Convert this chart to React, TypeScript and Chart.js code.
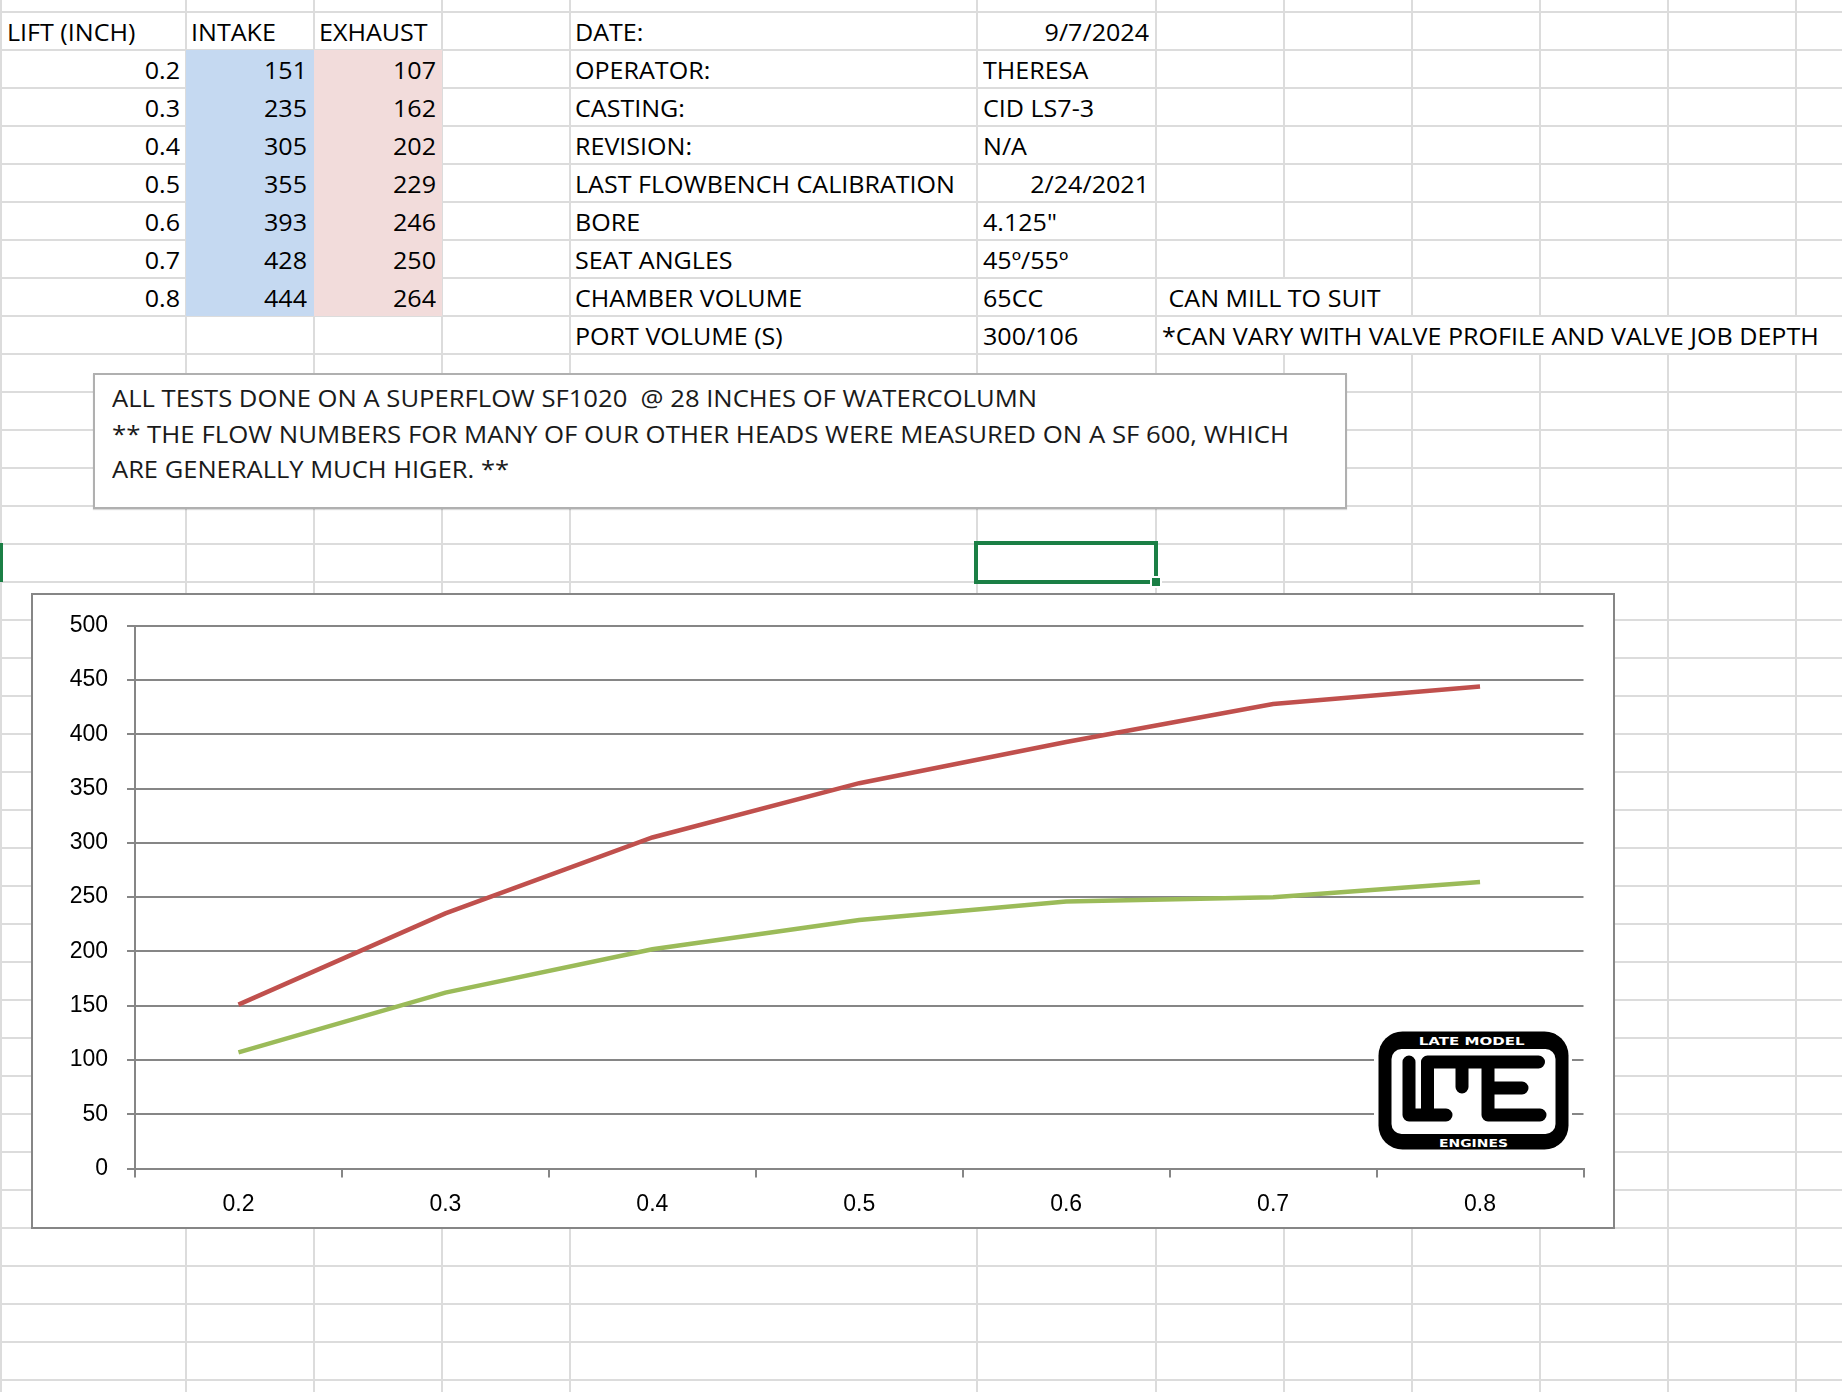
import React, { useEffect, useLayoutEffect, useRef, useState } from 'react';
import { Chart, registerables } from 'chart.js';

Chart.register(...registerables);

// ---------------- data ----------------
const lifts = ['0.2', '0.3', '0.4', '0.5', '0.6', '0.7', '0.8'];
const intake = [151, 235, 305, 355, 393, 428, 444];
const exhaust = [107, 162, 202, 229, 246, 250, 264];
const tableHeaders = ['LIFT (INCH)', 'INTAKE', 'EXHAUST'];
const infoLabels = [
  'DATE:', 'OPERATOR:', 'CASTING:', 'REVISION:', 'LAST FLOWBENCH CALIBRATION',
  'BORE', 'SEAT ANGLES', 'CHAMBER VOLUME', 'PORT VOLUME (S)',
];
const infoValues = ['9/7/2024', 'THERESA', 'CID LS7-3', 'N/A', '2/24/2021', '4.125"', '45º/55º', '65CC', '300/106'];
const infoRightAligned = [true, false, false, false, true, false, false, false, false];
const sideNotes = ['', '', '', '', '', '', '', ' CAN MILL TO SUIT', '*CAN VARY WITH VALVE PROFILE AND VALVE JOB DEPTH'];
const noteLines = [
  'ALL TESTS DONE ON A SUPERFLOW SF1020  @ 28 INCHES OF WATERCOLUMN',
  '** THE FLOW NUMBERS FOR MANY OF OUR OTHER HEADS WERE MEASURED ON A SF 600, WHICH',
  'ARE GENERALLY MUCH HIGER. **',
];
const yMin = 0;
const yMax = 500;
const yStep = 50;

// ---------------- layout ----------------
const ROW0 = 11.7;
const RH = 38;
const COLS = [1, 185.5, 313.5, 441.5, 569.5, 977, 1155.5, 1283.5, 1411.5, 1540, 1668, 1796];
const rowTop = (r: number) => ROW0 + r * RH;
const CELL_FONT = "'Open Sans', Lato, sans-serif";
const CELL_SIZE = 23.5;
const ASC = 1.069;
const DESC = 0.293;
const CELL_BASELINE = 29.5; // from row top
const REF_TEXT = 'LAST FLOWBENCH CALIBRATION';
const REF_WIDTH = 380;
const GRID = '#dcdcdc';
const CHART_FONT = "'Liberation Sans', Arial, sans-serif";
const AXIS = '#868686';
const GREEN = '#1b7f45';

function CellText({ x, row, text, align, sx }: { x: number; row: number; text: string; align?: string; sx: number }) {
  const top = rowTop(row) + CELL_BASELINE - ASC * CELL_SIZE;
  const base: React.CSSProperties = {
    position: 'absolute', top, lineHeight: (ASC + DESC) + '', fontFamily: CELL_FONT, fontSize: CELL_SIZE,
    whiteSpace: 'pre', color: '#000', transform: `scaleX(${sx})`,
  };
  if (align === 'right') {
    return <div style={{ ...base, left: x - 500, width: 500, textAlign: 'right', transformOrigin: '100% 0' }}>{text}</div>;
  }
  return <div style={{ ...base, left: x, transformOrigin: '0 0' }}>{text}</div>;
}

function FitText({ text, left, baseline, width, size }: { text: string; left: number; baseline: number; width: number; size: number }) {
  const ref = useRef<HTMLSpanElement>(null);
  useLayoutEffect(() => {
    const el = ref.current;
    if (!el) return;
    el.style.transform = 'none';
    const w = el.getBoundingClientRect().width;
    if (w > 0) el.style.transform = `scaleX(${width / w})`;
  }, [text, width]);
  return (
    <span
      ref={ref}
      style={{
        position: 'absolute', left, top: baseline - ASC * size, fontFamily: CELL_FONT, fontSize: size,
        lineHeight: (ASC + DESC) + '', whiteSpace: 'pre', transformOrigin: '0 0', display: 'inline-block', color: '#1a1a1a',
      }}
    >
      {text}
    </span>
  );
}

function FlowChart() {
  const ref = useRef<HTMLCanvasElement>(null);
  useEffect(() => {
    const canvas = ref.current;
    if (!canvas) return;
    const chart = new Chart(canvas, {
      type: 'line',
      data: {
        labels: lifts,
        datasets: [
          { label: 'INTAKE', data: intake, borderColor: '#c0504d', backgroundColor: '#c0504d', borderWidth: 4.5, pointRadius: 0, tension: 0, fill: false },
          { label: 'EXHAUST', data: exhaust, borderColor: '#9bbb59', backgroundColor: '#9bbb59', borderWidth: 4.5, pointRadius: 0, tension: 0, fill: false },
        ],
      },
      options: {
        animation: false,
        responsive: false,
        maintainAspectRatio: false,
        devicePixelRatio: 1,
        events: [],
        layout: { padding: { top: 31.5, right: 31.5, bottom: 0, left: 0 } },
        plugins: { legend: { display: false }, tooltip: { enabled: false }, title: { display: false } },
        scales: {
          x: {
            type: 'category',
            offset: true,
            grid: { offset: true, drawOnChartArea: false, drawTicks: true, tickLength: 9, color: AXIS, lineWidth: 2 },
            border: { display: true, color: AXIS, width: 2 },
            ticks: { font: { family: CHART_FONT, size: 23 }, color: '#000', padding: 13.5, maxRotation: 0, autoSkip: false },
            afterFit: (s: any) => { s.height = 60.5; },
          },
          y: {
            min: yMin,
            max: yMax,
            ticks: { stepSize: yStep, font: { family: CHART_FONT, size: 23 }, color: '#000', padding: 19 },
            grid: { color: AXIS, lineWidth: 2, tickLength: 8, drawTicks: true },
            border: { display: true, color: AXIS, width: 2 },
            afterFit: (s: any) => { s.width = 104; },
          },
        },
      },
    } as any);
    return () => chart.destroy();
  }, []);
  return <canvas ref={ref} width={1584} height={636} style={{ position: 'absolute', left: 0, top: 0, width: 1584, height: 636 }} />;
}

function Logo() {
  return (
    <svg style={{ position: 'absolute', left: 1374 - 31, top: 1028 - 593 }} width={198} height={125}>
      <rect x={0} y={0} width={198} height={125} fill="#fff" />
      <rect x={4.5} y={3.5} width={190} height={118} rx={24} fill="#000" />
      <rect x={17.5} y={21} width={164} height={85} rx={10} fill="#fff" />
      <path
        d="M35 34 V87 H72 M53.5 87 V34 H114 M88 34 V59 M114 34 V87 H166 M114 34 H164.5 M114 60 H148"
        stroke="#000" strokeWidth={13} strokeLinecap="round" strokeLinejoin="round" fill="none"
      />
      <text x={97.7} y={16.5} textAnchor="middle" fill="#fff" fontFamily="'DejaVu Sans', sans-serif" fontWeight="bold" fontSize={11} textLength={106} lengthAdjust="spacingAndGlyphs">LATE MODEL</text>
      <text x={99.5} y={118.5} textAnchor="middle" fill="#fff" fontFamily="'DejaVu Sans', sans-serif" fontWeight="bold" fontSize={11} textLength={69} lengthAdjust="spacingAndGlyphs">ENGINES</text>
    </svg>
  );
}

export default function App() {
  const [sx, setSx] = useState(1);
  useLayoutEffect(() => {
    const c = document.createElement('canvas').getContext('2d');
    if (!c) return;
    c.font = `${CELL_SIZE}px ${CELL_FONT}`;
    const w = c.measureText(REF_TEXT).width;
    if (w > 0) setSx(REF_WIDTH / w);
  }, []);

  const hLines: number[] = [];
  for (let k = 0; rowTop(k) < 1392; k++) hLines.push(rowTop(k));

  return (
    <div style={{ position: 'absolute', left: 0, top: 0, width: 1842, height: 1392, overflow: 'hidden', background: '#fff' }}>
      {/* grid lines */}
      {hLines.map((y, i) => (
        <div key={'h' + i} style={{ position: 'absolute', left: 0, top: y - 1, width: 1842, height: 2, background: GRID }} />
      ))}
      {COLS.map((x, i) => (
        <div key={'v' + i} style={{ position: 'absolute', left: x - 1, top: 0, width: 2, height: 1392, background: GRID }} />
      ))}

      {/* cell fills */}
      <div style={{ position: 'absolute', left: COLS[1], top: rowTop(1), width: COLS[2] - COLS[1], height: RH * lifts.length, background: '#c5d9f1' }} />
      <div style={{ position: 'absolute', left: COLS[2], top: rowTop(1), width: COLS[3] - COLS[2], height: RH * lifts.length, background: '#f2dcdb' }} />

      {/* overflow text hides vertical gridlines */}
      <div style={{ position: 'absolute', left: COLS[6] + 1, top: rowTop(7) + 1, width: COLS[8] - COLS[6] - 2, height: RH - 2, background: '#fff' }} />
      <div style={{ position: 'absolute', left: COLS[6] + 1, top: rowTop(8) + 1, width: 1842 - COLS[6], height: RH - 2, background: '#fff' }} />

      {/* table */}
      <CellText sx={sx} x={7} row={0} text={tableHeaders[0]} />
      <CellText sx={sx} x={190.5} row={0} text={tableHeaders[1]} />
      <CellText sx={sx} x={318.5} row={0} text={tableHeaders[2]} />
      {lifts.map((l, i) => (
        <React.Fragment key={'r' + i}>
          <CellText sx={sx} x={179.5} row={i + 1} text={l} align="right" />
          <CellText sx={sx} x={307} row={i + 1} text={String(intake[i])} align="right" />
          <CellText sx={sx} x={435.5} row={i + 1} text={String(exhaust[i])} align="right" />
        </React.Fragment>
      ))}

      {/* info */}
      {infoLabels.map((t, i) => (
        <CellText sx={sx} key={'il' + i} x={574.5} row={i} text={t} />
      ))}
      {infoValues.map((t, i) => (
        infoRightAligned[i]
          ? <CellText sx={sx} key={'iv' + i} x={1148.5} row={i} text={t} align="right" />
          : <CellText sx={sx} key={'iv' + i} x={982.5} row={i} text={t} />
      ))}
      {sideNotes.map((t, i) => (t ? <CellText sx={sx} key={'sn' + i} x={1161.5} row={i} text={t} /> : null))}

      {/* text box */}
      <div style={{ position: 'absolute', left: 92.5, top: 372.5, width: 1347 - 92.5, height: 509 - 372.5, boxSizing: 'border-box', border: '2px solid #b0b0b0', background: '#fff', boxShadow: '0 1px 1px rgba(0,0,0,0.15)' }} />
      <FitText text={noteLines[0]} left={111.5} baseline={407.5} width={925} size={24.2} />
      <FitText text={noteLines[1]} left={111.5} baseline={443.5} width={1177} size={24.2} />
      <FitText text={noteLines[2]} left={111.5} baseline={479.3} width={397} size={24.2} />

      {/* selected cell */}
      <div style={{ position: 'absolute', left: 0, top: 543, width: 2.5, height: 39, background: GREEN }} />
      <div style={{ position: 'absolute', left: 974, top: 541, width: 184, height: 43, boxSizing: 'border-box', border: '4px solid ' + GREEN }} />
      <div style={{ position: 'absolute', left: 1150, top: 575.5, width: 12, height: 12, background: '#fff' }} />
      <div style={{ position: 'absolute', left: 1152, top: 577.5, width: 8, height: 8, background: GREEN }} />

      {/* chart */}
      <div style={{ position: 'absolute', left: 31, top: 593, width: 1584, height: 636, background: '#fff' }}>
        <FlowChart />
        <Logo />
        <div style={{ position: 'absolute', left: 0, top: 0, width: 1584, height: 636, boxSizing: 'border-box', border: '2px solid ' + AXIS, pointerEvents: 'none' }} />
      </div>
    </div>
  );
}
